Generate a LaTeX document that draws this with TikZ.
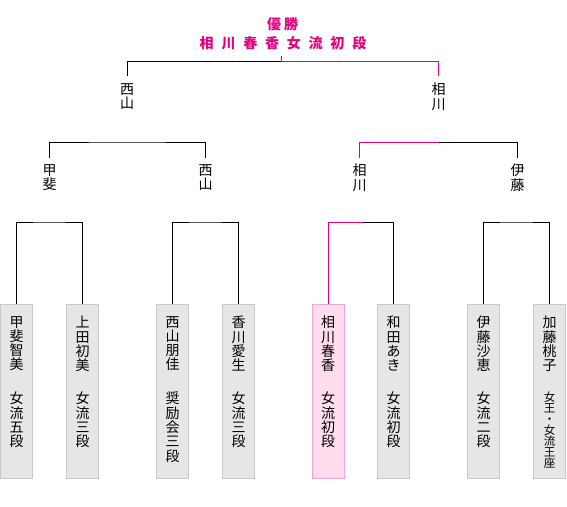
\documentclass[tikz,border=0pt]{standalone}
\usepackage{fontspec}
\setmainfont{Noto Sans CJK JP}
\usepackage{tikz}

\definecolor{champ}{HTML}{E4007F}
\definecolor{boxfill}{HTML}{E6E6E6}
\definecolor{boxline}{HTML}{C8C8C8}
\definecolor{champfill}{HTML}{FFDDEE}
\definecolor{champline}{HTML}{F0A8D0}

\newcommand{\tgap}{\hspace{7.8pt}}

\begin{document}
\begin{tikzpicture}[x=1pt, y=-1pt,
    player/.style={draw=boxline, fill=boxfill, line width=1pt, minimum width=32pt,
      minimum height=174pt, inner sep=0pt, anchor=north},
    champbox/.style={player, draw=champline, fill=champfill},
    vtext/.style={align=center, inner sep=0pt, anchor=north,
      font=\fontsize{14}{14.3}\selectfont},
    smalltext/.style={vtext, font=\fontsize{11.5}{10.9}\selectfont},
    bracket/.style={line width=1pt, line cap=rect},
    winline/.style={bracket, draw=champ}]

    \useasboundingbox (0,0) rectangle (567,506);

    % title
    \node[inner sep=0pt, anchor=north, text=champ, font=\bfseries\fontsize{14}{14}\selectfont]
      (title) at (282.5,17) {優\hspace{3pt}勝};
    \node[inner sep=0pt, anchor=north, text=champ, font=\bfseries\fontsize{14}{14}\selectfont]
      (titlename) at (283,36) {相\tgap 川\tgap 春\tgap 香\tgap 女\tgap 流\tgap 初\tgap 段};

    % players
    \node[player] (kai) at (16.5,303.5) {};
    \node[player] (ueda) at (82.5,303.5) {};
    \node[player] (nishiyama) at (172.5,303.5) {};
    \node[player] (kagawa) at (238.5,303.5) {};
    \node[champbox] (aikawa) at (328,303.5) {};
    \node[player] (wada) at (393.5,303.5) {};
    \node[player] (ito) at (483.5,303.5) {};
    \node[player] (kato) at (549.5,303.5) {};

    \node[vtext] (kaiN) at (16.5,316) {甲\\斐\\智\\美};
    \node[vtext] (kaiR) at (16.5,392) {女\\流\\五\\段};
    \node[vtext] (uedaN) at (82.5,316) {上\\田\\初\\美};
    \node[vtext] (uedaR) at (82.5,392) {女\\流\\三\\段};
    \node[vtext] (nishiyamaN) at (172.5,316) {西\\山\\朋\\佳};
    \node[vtext] (nishiyamaR) at (172.5,392) {奨\\励\\会\\三\\段};
    \node[vtext] (kagawaN) at (238.5,316) {香\\川\\愛\\生};
    \node[vtext] (kagawaR) at (238.5,392) {女\\流\\三\\段};
    \node[vtext] (aikawaN) at (328,316) {相\\川\\春\\香};
    \node[vtext] (aikawaR) at (328,392) {女\\流\\初\\段};
    \node[vtext] (wadaN) at (393.5,316) {和\\田\\あ\\き};
    \node[vtext] (wadaR) at (393.5,392) {女\\流\\初\\段};
    \node[vtext] (itoN) at (483.5,316) {伊\\藤\\沙\\恵};
    \node[vtext] (itoR) at (483.5,392) {女\\流\\二\\段};
    \node[vtext] (katoN) at (549.5,316) {加\\藤\\桃\\子};
    \node[smalltext] (katoR) at (549.5,392) {女\\王\\・\\女\\流\\王\\座};

    % first round
    \coordinate (m1) at (49.5,222);
    \coordinate (m2) at (205.5,222);
    \coordinate (m3) at (362,222);
    \coordinate (m4) at (516.5,222);
    \draw[bracket] (kai.north) |- (m1) -| (ueda.north);
    \draw[bracket] (nishiyama.north) |- (m2) -| (kagawa.north);
    \draw[bracket] (m3) -| (wada.north);
    \draw[winline] (aikawa.north) |- (m3);
    \draw[bracket] (ito.north) |- (m4) -| (kato.north);

    \node[vtext] (kaiW) at (49.5,164) {甲\\斐};
    \node[vtext] (nishiyamaW) at (205.5,164) {西\\山};
    \node[vtext] (aikawaW) at (359.5,164) {相\\川};
    \node[vtext] (itoW) at (517.5,164) {伊\\藤};

    % semi final
    \coordinate (m5) at (127,142);
    \coordinate (m6) at (438.5,142);
    \draw[bracket] ([yshift=7pt]kaiW.north) |- (m5) -| ([yshift=7pt]nishiyamaW.north);
    \draw[bracket] (m6) -| ([yshift=7pt]itoW.north);
    \draw[winline] ([yshift=7pt]aikawaW.north) |- (m6);

    \node[vtext] (nishiyamaF) at (127,83) {西\\山};
    \node[vtext] (aikawaF) at (438.5,83) {相\\川};

    % final
    \coordinate (m7) at (281.5,61);
    \draw[bracket] ([yshift=8pt]nishiyamaF.north) |- (m7);
    \draw[winline] ([yshift=8pt]aikawaF.north) |- (m7) -- ++(0,-5);
\end{tikzpicture}
\end{document}
